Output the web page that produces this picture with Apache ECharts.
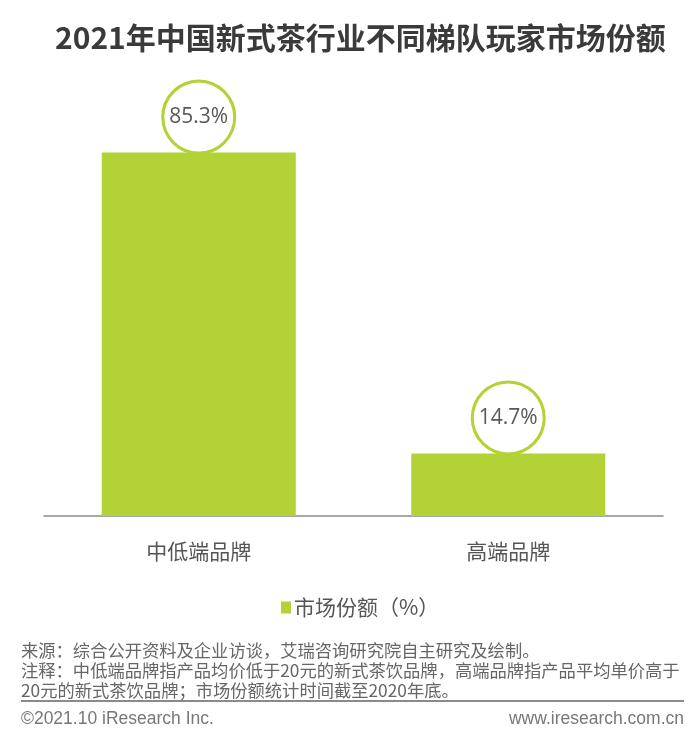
<!DOCTYPE html>
<html>
<head>
<meta charset="utf-8">
<script src="https://cdn.jsdelivr.net/npm/echarts@6/dist/echarts.min.js"></script>
<style>
html,body{margin:0;padding:0;background:#fff;}
#c{width:693px;height:750px;}
</style>
</head>
<body>
<div id="c"></div>
<script>
const title = '2021年中国新式茶行业不同梯队玩家市场份额';
const categories = ['中低端品牌', '高端品牌'];
const seriesName = '市场份额（%）';
const shareValues = [85.3, 14.7];
const sourceLines = [
  '来源：综合公开资料及企业访谈，艾瑞咨询研究院自主研究及绘制。',
  '注释：中低端品牌指产品均价低于20元的新式茶饮品牌，高端品牌指产品平均单价高于',
  '20元的新式茶饮品牌；市场份额统计时间截至2020年底。'
];
const copyrightLeft = '©2021.10 iResearch Inc.';
const copyrightRight = 'www.iresearch.com.cn';

const green = '#b2d235';
const cjk = '"Noto Sans CJK SC", "Noto Sans", sans-serif';

const chart = echarts.init(document.getElementById('c'));
chart.setOption({
  backgroundColor: '#fff',
  animation: false,
  title: {
    text: title,
    left: 50,
    top: 18,
    textStyle: { fontSize: 30, fontWeight: 'bold', color: '#3a3a3a', fontFamily: cjk }
  },
  legend: {
    data: [seriesName],
    top: 592,
    left: 276,
    itemWidth: 10,
    itemHeight: 12,
    itemGap: 4,
    icon: 'rect',
    textStyle: { fontSize: 21, color: '#555', fontFamily: cjk, padding: [0,0,0,-2] }
  },
  grid: { left: 44, right: 30, top: 90, bottom: 234 },
  xAxis: {
    type: 'category',
    data: categories,
    axisLine: { lineStyle: { color: '#8c8c8c', width: 1.5 } },
    axisTick: { show: false },
    axisLabel: { fontSize: 21, color: '#555', margin: 25, fontFamily: cjk }
  },
  yAxis: {
    type: 'value', min: 0, max: 100,
    show: false,
    splitLine: { show: false }
  },
  series: [{
    name: seriesName,
    type: 'bar',
    data: shareValues,
    barWidth: 194,
    itemStyle: { color: green },
    label: {
      show: true,
      position: 'top',
      distance: 1,
      formatter: p => p.value.toFixed(1) + '%',
      width: 69,
      height: 69,
      lineHeight: 69,
      align: 'center',
      backgroundColor: '#fff',
      borderColor: green,
      borderWidth: 3,
      borderRadius: 38,
      fontSize: 21,
      color: '#595959',
      fontFamily: '"Open Sans", sans-serif'
    }
  }],
  graphic: [
    ...sourceLines.map((t, i) => ({
      type: 'text', left: 21, top: 642 + i * 20,
      style: { text: t, fontSize: 17.3, fill: '#666', fontFamily: cjk }
    })),
    {
      type: 'line', shape: { x1: 21, y1: 701, x2: 684, y2: 701 },
      style: { stroke: '#8a8a8a', lineWidth: 2 }
    },
    {
      type: 'text', left: 21, top: 710,
      style: { text: copyrightLeft, fontSize: 17.5, fill: '#777', fontFamily: '"Liberation Sans", Arial, sans-serif' }
    },
    {
      type: 'text', right: 9, top: 710,
      style: { text: copyrightRight, fontSize: 17.5, fill: '#777', fontFamily: '"Liberation Sans", Arial, sans-serif' }
    }
  ]
});
</script>
</body>
</html>
